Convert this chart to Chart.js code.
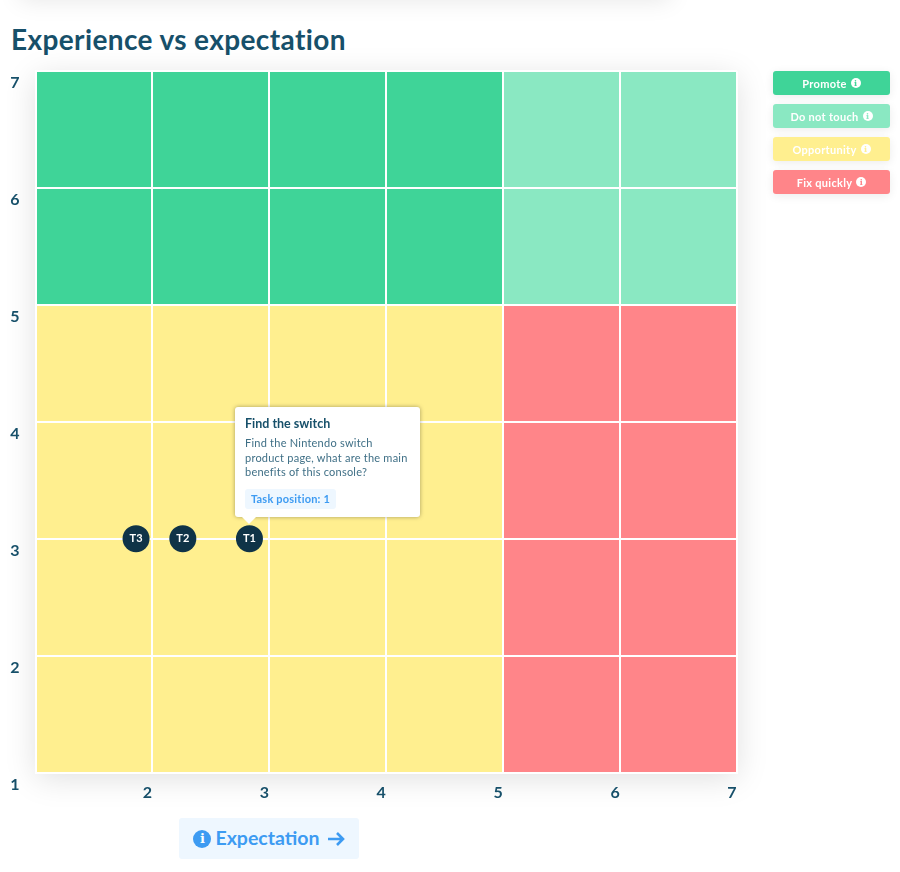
<!DOCTYPE html>
<html lang="en">
<head>
  <meta charset="UTF-8" />
  <title>Experience vs expectation</title>
  <script src="https://cdn.jsdelivr.net/npm/chart.js"></script>
  <style>
    html, body { margin: 0; padding: 0; background: #fff; }
    body { width: 900px; height: 872px; position: relative; overflow: hidden; font-family: Lato, sans-serif; color: #17506a; }
    h2 { position: absolute; left: 11px; top: 21px; margin: 0; font-size: 28px; line-height: 36px; font-weight: 700; letter-spacing: .38px; color: #17506a; white-space: nowrap; }
    .topcard { position: absolute; left: 20px; top: -40px; width: 650px; height: 40px; box-shadow: 0 0 24px rgba(0,0,0,.10); }
    .plotshadow { position: absolute; left: 36px; top: 71px; width: 701px; height: 701px; box-shadow: 0 6px 30px rgba(0,0,0,.13); }
    canvas { position: absolute; left: 0; top: 0; }
    #legend { position: absolute; left: 773px; top: 71px; width: 117px; }
    .btn { height: 24px; margin-bottom: 9px; border-radius: 3px; color: #fff; font-size: 11px; font-weight: 700; letter-spacing: .3px; display: flex; align-items: center; justify-content: center; box-shadow: 0 2px 10px rgba(0,0,0,.08); }
    .btn i { width: 10px; height: 10px; margin-left: 4px; border-radius: 50%; background: #fff; font: 700 8px/10px "DejaVu Serif", serif; text-align: center; }
    #tip { position: absolute; left: 235px; top: 407px; width: 185px; height: 110px; box-sizing: border-box; padding: 9px 10px; background: #fff; border-radius: 3px; box-shadow: 0 0 4px rgba(0,0,0,.35); }
    #tip:after { content: ""; position: absolute; left: 7px; top: 110px; border: 7px solid transparent; border-top-color: #fff; border-bottom: 0; }
    #tip b { display: block; font-size: 12.5px; line-height: 16px; color: #17506a; }
    #tip p { margin: 4px 0 7px; font-size: 11px; line-height: 14.5px; letter-spacing: .23px; color: #3f6f86; white-space: pre-line; }
    #tip span { display: inline-block; padding: 0 6px; height: 20px; line-height: 20px; background: #eef7ff; color: #3d9bf2; font-size: 11px; font-weight: 700; letter-spacing: .2px; border-radius: 3px; }
    #axisBtn { position: absolute; left: 179px; top: 818px; width: 180px; height: 41px; box-sizing: border-box; padding-bottom: 3px; border-radius: 3px; background: #eef7ff; color: #3d9bf2; font-size: 19.5px; font-weight: 700; display: flex; align-items: center; justify-content: center; }
    #axisBtn i { width: 18px; height: 18px; margin-top: 3px; margin-right: 4px; border-radius: 50%; background: #3d9bf2; color: #fff; font: 700 13px/18px "DejaVu Serif", serif; text-align: center; }
    #axisBtn svg { margin-left: 7px; margin-top: 3px; }
  </style>
</head>
<body>
  <div class="topcard"></div>
  <h2>Experience vs expectation</h2>
  <div class="plotshadow"></div>
  <canvas id="chart" width="900" height="872"></canvas>
  <div id="legend"></div>
  <div id="tip"></div>
  <div id="axisBtn"><i>i</i>Expectation<svg width="18" height="16" viewBox="0 0 18 16"><path d="M1 8h15M10 2l6 6-6 6" fill="none" stroke="#3d9bf2" stroke-width="2.6"/></svg></div>

  <script>
    const axisTicks = [1, 2, 3, 4, 5, 6, 7];

    // quadrants, in axis values
    const zoneNames = ["Promote", "Do not touch", "Opportunity", "Fix quickly"];
    const zoneFromX = [1, 5, 1, 5];
    const zoneToX = [5, 7, 5, 7];
    const zoneFromY = [5, 5, 1, 1];
    const zoneToY = [7, 7, 5, 5];
    const zoneColors = ["#3fd498", "#8ae8c2", "#ffef8f", "#ff8589"];

    const taskLabels = ["T1", "T2", "T3"];
    const taskExpectation = [2.83, 2.26, 1.86];
    const taskExperience = [3, 3, 3];

    const tipTitle = "Find the switch";
    const tipBody = "Find the Nintendo switch\nproduct page, what are the main\nbenefits of this console?";
    const tipBadge = "Task position: 1";

    const textColor = "#17506a";
    const dotColor = "#0f3347";

    document.getElementById("legend").innerHTML = zoneNames
      .map((n, i) => `<div class="btn" style="background:${zoneColors[i]}">${n}<i style="color:${zoneColors[i]}">i</i></div>`)
      .join("");
    document.getElementById("tip").innerHTML = `<b>${tipTitle}</b><p>${tipBody}</p><span>${tipBadge}</span>`;

    const zoneSets = zoneNames.map((n, i) => ({
      label: n,
      data: [{ x: zoneFromX[i], y: zoneToY[i] }, { x: zoneToX[i], y: zoneToY[i] }],
      showLine: true,
      borderWidth: 0,
      pointRadius: 0,
      backgroundColor: zoneColors[i],
      fill: { value: zoneFromY[i] }
    }));

    const taskSet = {
      label: "Tasks",
      data: taskExpectation.map((x, i) => ({ x: x, y: taskExperience[i] })),
      pointRadius: 13.5,
      pointBackgroundColor: dotColor,
      pointBorderWidth: 0
    };

    // writes T1, T2, T3 on top of the dots
    const dotLabels = {
      id: "dotLabels",
      afterDatasetsDraw(chart) {
        const ctx = chart.ctx;
        const pts = chart.getDatasetMeta(zoneSets.length).data;
        ctx.save();
        ctx.fillStyle = "#fff";
        ctx.font = "700 11px Lato";
        ctx.textAlign = "center";
        ctx.textBaseline = "middle";
        pts.forEach((p, i) => ctx.fillText(taskLabels[i], p.x, p.y));
        ctx.restore();
      }
    };

    new Chart(document.getElementById("chart").getContext("2d"), {
      type: "scatter",
      data: { datasets: zoneSets.concat([taskSet]) },
      plugins: [dotLabels],
      options: {
        responsive: false,
        animation: false,
        events: [],
        layout: { padding: { top: 71, right: 163, bottom: 0, left: 0 } },
        plugins: {
          legend: { display: false },
          tooltip: { enabled: false },
          filler: { drawTime: "beforeDraw" }
        },
        scales: {
          x: {
            type: "linear",
            min: 1,
            max: 7,
            afterFit(s) { s.height = 99.5; s.paddingLeft = 0; s.paddingRight = 0; },
            afterBuildTicks(s) { s.ticks = axisTicks.map(v => ({ value: v })); },
            border: { color: "#fff", width: 2 },
            grid: { color: "#fff", lineWidth: 2, drawTicks: false },
            ticks: {
              color: textColor,
              font: { family: "Lato", size: 16, weight: "700" },
              maxRotation: 0,
              padding: 11,
              labelOffset: -5,
              callback: v => (v === 1 ? "" : v)
            }
          },
          y: {
            type: "linear",
            min: 1,
            max: 7,
            afterFit(s) { s.width = 35.5; s.paddingTop = 0; s.paddingBottom = 0; },
            afterBuildTicks(s) { s.ticks = axisTicks.map(v => ({ value: v })); },
            border: { color: "#fff", width: 2 },
            grid: { color: "#fff", lineWidth: 2, drawTicks: false },
            ticks: {
              color: textColor,
              font: { family: "Lato", size: 16, weight: "700" },
              padding: 16,
              labelOffset: 12
            }
          }
        }
      }
    });
  </script>
</body>
</html>
